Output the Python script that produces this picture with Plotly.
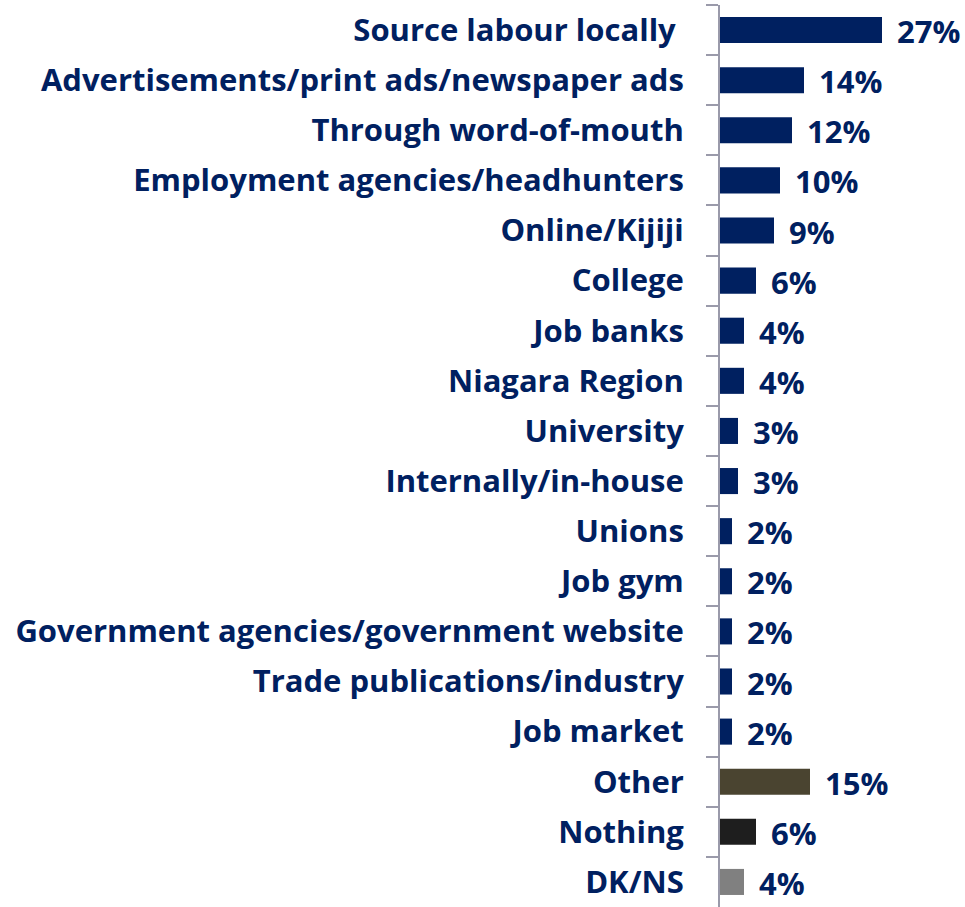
import plotly.graph_objects as go

categories = [
    "Source labour locally\u00a0",
    "Advertisements/print ads/newspaper ads",
    "Through word-of-mouth",
    "Employment agencies/headhunters",
    "Online/Kijiji",
    "College",
    "Job banks",
    "Niagara Region",
    "University",
    "Internally/in-house",
    "Unions",
    "Job gym",
    "Government agencies/government website",
    "Trade publications/industry",
    "Job market",
    "Other",
    "Nothing",
    "DK/NS",
]
values = [27, 14, 12, 10, 9, 6, 4, 4, 3, 3, 2, 2, 2, 2, 2, 15, 6, 4]

NAVY = "#002060"
bar_colors = [NAVY] * 15 + ["#4A4430", "#1E1E1E", "#808080"]

FONT = "Open Sans"
SIZE = 31

fig = go.Figure(
    go.Bar(
        x=values,
        y=categories,
        orientation="h",
        marker=dict(color=bar_colors, line=dict(width=0)),
        hoverinfo="skip",
    )
)

for cat, v in zip(categories, values):
    fig.add_annotation(
        x=v, y=cat, text=f"{v}%", showarrow=False,
        xanchor="left", yanchor="middle", xshift=13, yshift=-1,
        font=dict(family=FONT, size=SIZE, color=NAVY, weight="bold"),
    )

fig.update_layout(
    width=965, height=907,
    margin=dict(l=720, r=5, t=5, b=0),
    paper_bgcolor="white", plot_bgcolor="white",
    bargap=0.48,
    showlegend=False,
    xaxis=dict(range=[0, 40], visible=False),
    yaxis=dict(
        type="category",
        autorange="reversed",
        automargin=False,
        tickson="boundaries",
        ticks="outside", ticklen=12, tickwidth=2, tickcolor="#9A9AAA",
        showline=True, linecolor="#9A9AAA", linewidth=2,
        showgrid=False,
        ticklabelstandoff=28,
        tickfont=dict(family=FONT, size=SIZE, color=NAVY, weight="bold"),
    ),
)

fig.write_html("out.html")
